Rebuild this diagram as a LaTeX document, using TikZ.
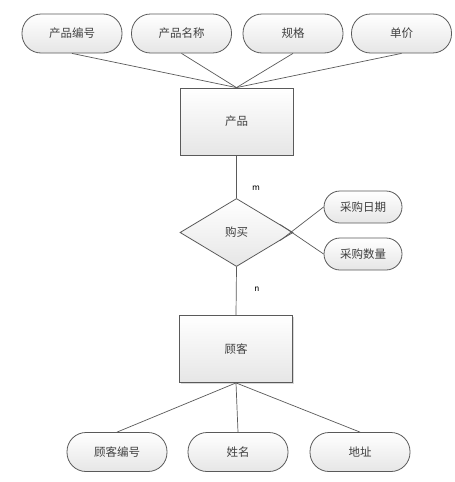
\documentclass[tikz,border=0pt]{standalone}
\usepackage{fontspec}
\newfontfamily\cjk{Noto Sans CJK SC}
\usetikzlibrary{shapes.geometric,calc,shadows}
\definecolor{edge}{HTML}{5A5A5A}
\definecolor{fillb}{HTML}{E6E6E6}
\tikzset{
  base/.style={draw=edge, line width=0.8pt, top color=white, bottom color=fillb, font=\cjk\fontsize{11.5}{12}\selectfont, text=black!75},
  attr/.style={base, rectangle, rounded corners=19pt, minimum width=100pt, minimum height=39pt, inner sep=0pt},
  attrs/.style={base, rectangle, rounded corners=16pt, minimum width=78pt, minimum height=32pt, inner sep=0pt},
  entity/.style={base, rectangle, minimum width=113pt, minimum height=67pt, drop shadow={shadow xshift=1pt, shadow yshift=-1pt, opacity=0.3}},
  rel/.style={base, diamond, aspect=1.66, minimum width=113pt, minimum height=68pt, inner sep=0pt},
  link/.style={draw=edge, line width=0.7pt},
  card/.style={font=\sffamily\fontsize{10}{11}\selectfont}
}
\begin{document}
\begin{tikzpicture}[x=1pt,y=-1pt]
\useasboundingbox (0,0) rectangle (455,482);
\fill[white] (0,0) rectangle (455,482);
\node[attr] (a1) at (72,33.5) {产品编号};
\node[attr] (a2) at (181.5,33.5) {产品名称};
\node[attr] (a3) at (293,33.5) {规格};
\node[attr] (a4) at (401.5,33.5) {单价};
\node[entity] (p) at (236.5,121.5) {产品};
\node[rel] (b) at (236.5,232.5) {购买};
\node[attrs] (d1) at (363,207) {采购日期};
\node[attrs] (d2) at (363,254) {采购数量};
\node[entity] (c) at (236,349) {顾客};
\node[attr] (c1) at (117,452) {顾客编号};
\node[attr] (c2) at (238,452) {姓名};
\node[attr] (c3) at (360,452) {地址};
\foreach \n in {a1,a2,a3,a4} \draw[link] (\n.south) -- (p.north);
\draw[link] (p.south) -- (b.north);
\draw[link] (b.south) -- (c.north);
\draw[link] ($(b.north)!0.77!(b.east)$) -- (d2.west);
\draw[link] ($(b.south)!0.77!(b.east)$) -- (d1.west);
\foreach \n in {c1,c2,c3} \draw[link] (c.south) -- (\n.north);
\node[card] (m) at (256,188) {m};
\node[card] (nn) at (257,289) {n};
\end{tikzpicture}
\end{document}
